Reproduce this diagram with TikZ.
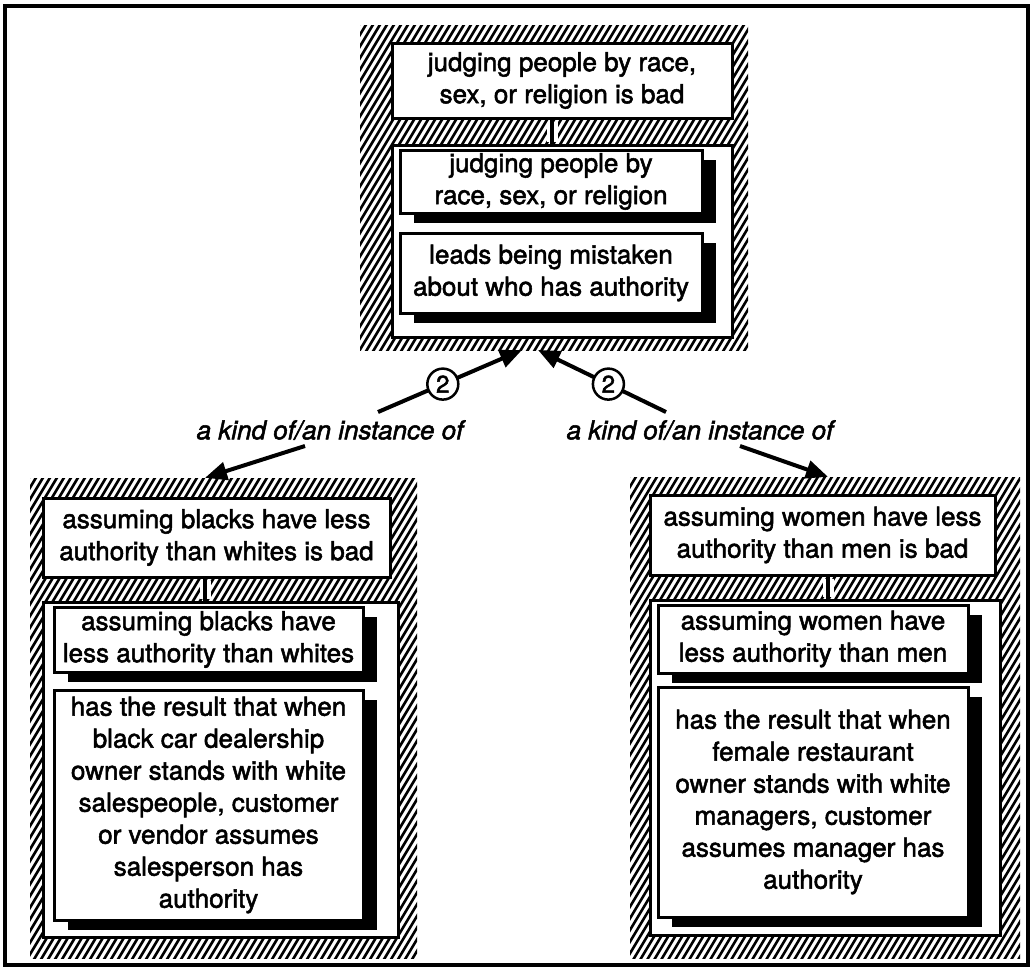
\documentclass[tikz,border=0pt]{standalone}
\usepackage{fontspec}
\setmainfont{TeX Gyre Heros}[FakeBold=2]
\usetikzlibrary{arrows.meta,calc,shadows}

% hatched band filling a rectangle: x1,y1,x2,y2 (y grows downwards)
\newcommand\hatcharea[4]{%
  \begin{scope}
    \clip (#1,#2) rectangle (#3,#4);
    \pgfmathsetmacro\hh{#4-#2}
    \pgfmathsetmacro\sx{#1-0.6*\hh-10}
    \pgfmathsetmacro\sxn{\sx+7}
    \foreach \a in {\sx,\sxn,...,#3}
      \draw[hatchline] (\a,#4+3) -- ++(0.6*\hh+3.6,-\hh-6);
  \end{scope}}

\begin{document}
\begin{tikzpicture}[x=1pt,y=-1pt,
  hatchline/.style={line width=2.6pt, line cap=butt},
  area/.style={draw=none, inner sep=0pt},
  txt/.style={font=\fontsize{26}{32}\selectfont, align=center},
  box/.style={draw, line width=3pt, fill=white, inner sep=0pt, txt},
  sbox/.style={box, drop shadow={shadow xshift=14pt, shadow yshift=-10pt, fill=black, opacity=1}},
  panel/.style={draw, line width=3pt, fill=white, inner sep=0pt},
  link/.style={line width=4pt},
  halo/.style={line width=11pt, white},
  arr/.style={line width=4pt, -{Triangle[length=22pt,width=18pt]}},
  num/.style={circle, draw, line width=2.5pt, fill=white, inner sep=0pt,
              minimum size=31pt, font=\fontsize{24}{24}\selectfont},
  lbl/.style={font=\fontsize{26}{30}\selectfont\itshape}
]
\useasboundingbox (0,0) rectangle (1032,970);

% outer frame
\draw[line width=4pt] (5,6) rectangle (1028,965);

% ---------- top group ----------
\hatcharea{360}{25}{748}{350}
\node[area, minimum width=388pt, minimum height=325pt] (ga) at (554,187.5) {};
\node[box, minimum width=340pt, minimum height=75pt] (a0) at (562,80.5)
  {judging people by race,\\ sex, or religion is bad};
\node[panel, minimum width=340pt, minimum height=192pt] (pa) at (562,241) {};
\node[sbox, minimum width=302pt, minimum height=63pt] (a1) at (551,181.5)
  {judging people by\\ race, sex, or religion};
\node[sbox, minimum width=302pt, minimum height=80pt] (a2) at (551,273)
  {leads being mistaken\\ about who has authority};
\coordinate (ax) at (552,0);
\draw[halo] ($(a0.south -| ax)+(0,2)$) -- ($(pa.north -| ax)+(0,-2)$);
\draw[link] (a0.south -| ax) -- (pa.north -| ax);

% ---------- bottom left group ----------
\hatcharea{30}{478}{417}{958}
\node[area, minimum width=387pt, minimum height=480pt] (gb) at (223.5,718) {};
\node[box, minimum width=347pt, minimum height=79pt] (b0) at (216.5,537.5)
  {assuming blacks have less\\ authority than whites is bad};
\node[panel, minimum width=355pt, minimum height=335pt] (pb) at (220.5,769.5) {};
\node[sbox, minimum width=309pt, minimum height=65pt] (b1) at (208.5,639.5)
  {assuming blacks have\\ less authority than whites};
\node[sbox, minimum width=309pt, minimum height=230pt] (b2) at (208.5,805)
  {has the result that when\\ black car dealership\\ owner stands with white\\
   salespeople, customer\\ or vendor assumes\\ salesperson has\\ authority};
\coordinate (bx) at (205,0);
\draw[halo] ($(b0.south -| bx)+(0,2)$) -- ($(pb.north -| bx)+(0,-2)$);
\draw[link] (b0.south -| bx) -- (pb.north -| bx);

% ---------- bottom right group ----------
\hatcharea{630}{477}{1020}{958}
\node[area, minimum width=390pt, minimum height=481pt] (gc) at (825,717.5) {};
\node[box, minimum width=345pt, minimum height=80pt] (c0) at (822.5,535)
  {assuming women have less\\ authority than men is bad};
\node[panel, minimum width=350pt, minimum height=335pt] (pc) at (825,767.5) {};
\node[sbox, minimum width=310pt, minimum height=68pt] (c1) at (813,639)
  {assuming women have\\ less authority than men};
\node[sbox, minimum width=310pt, minimum height=230pt] (c2) at (813,802)
  {has the result that when\\ female restaurant\\ owner stands with white\\
   managers, customer\\ assumes manager has\\ authority};
\coordinate (cx) at (828,0);
\draw[halo] ($(c0.south -| cx)+(0,2)$) -- ($(pc.north -| cx)+(0,-2)$);
\draw[link] (c0.south -| cx) -- (pc.north -| cx);

% ---------- relation labels and arrows ----------
\node[lbl] (l1) at (330,430) {a kind of/an instance of};
\node[lbl] (l2) at (700,430) {a kind of/an instance of};

\coordinate (t1) at (378,412);
\coordinate (t2) at (666,412);
\coordinate (t3) at (305,446);
\coordinate (t4) at (740,446);
\coordinate (h1) at (522,350);
\coordinate (h2) at (538,350);

\draw[arr] (t1) -- node[num, pos=0.45] {2} (h1);
\draw[arr] (t2) -- node[num, pos=0.45] {2} (h2);
\draw[arr] (t3) -- (gb.north -| bx);
\draw[arr] (t4) -- (gc.north -| cx);
\end{tikzpicture}
\end{document}
